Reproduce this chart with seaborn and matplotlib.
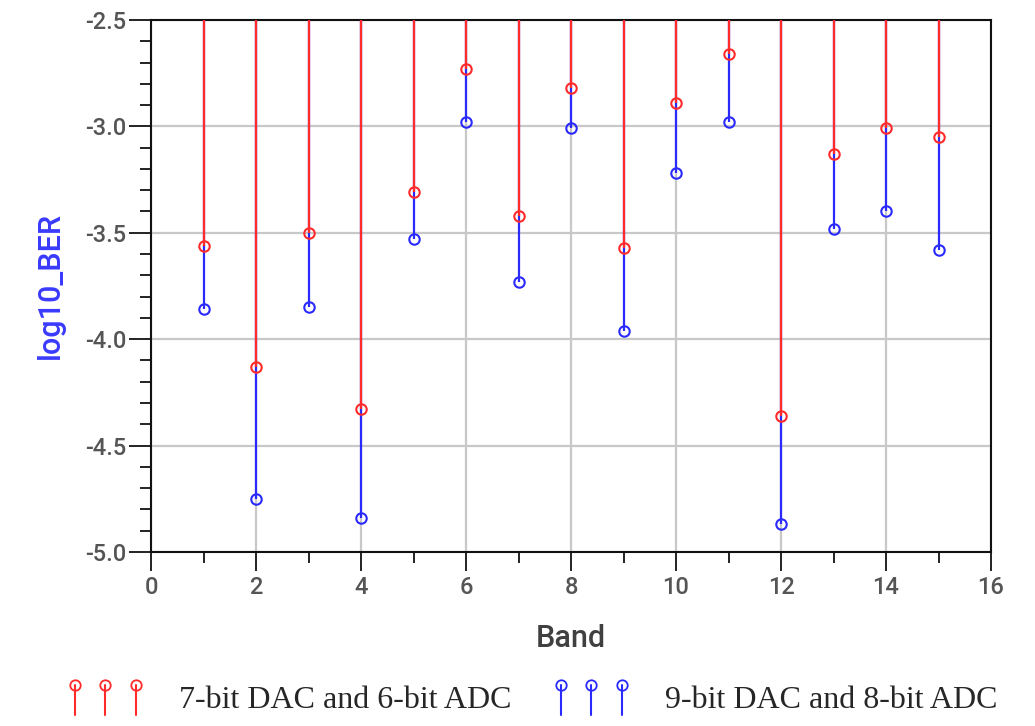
import numpy as np
import matplotlib
matplotlib.use("Agg")
import matplotlib.pyplot as plt
from matplotlib.ticker import MultipleLocator, FormatStrFormatter
from matplotlib.legend_handler import HandlerBase
from matplotlib.lines import Line2D
import seaborn as sns

# Log10 bit error rate per band for two converter resolutions
bands = [1, 2, 3, 4, 5, 6, 7, 8, 9, 10, 11, 12, 13, 14, 15]
ber_7dac_6adc = [-3.56, -4.13, -3.50, -4.33, -3.31, -2.73, -3.42, -2.82,
                 -3.57, -2.89, -2.66, -4.36, -3.13, -3.01, -3.05]
ber_9dac_8adc = [-3.86, -4.75, -3.85, -4.84, -3.53, -2.98, -3.73, -3.01,
                 -3.96, -3.22, -2.98, -4.87, -3.48, -3.40, -3.58]
series_labels = ["7-bit DAC and 6-bit ADC", "9-bit DAC and 8-bit ADC"]

sns.set_style("white")
plt.rcParams["font.family"] = ["Roboto", "DejaVu Sans"]

RED = "#ff2a2a"
BLUE = "#2a2aff"

fig = plt.figure(figsize=(10.35, 7.26), dpi=100)
ax = fig.add_axes([0.1459, 0.2397, 0.8116, 0.7328])

top = -2.5

def stems(values, color, z):
    cont = ax.stem(bands, values, bottom=top, basefmt=" ")
    cont.stemlines.set_color(color)
    cont.stemlines.set_linewidth(1.6)
    cont.stemlines.set_zorder(z)
    cont.markerline.set_marker("o")
    cont.markerline.set_markersize(7.5)
    cont.markerline.set_markerfacecolor("none")
    cont.markerline.set_markeredgecolor(color)
    cont.markerline.set_markeredgewidth(1.5)
    cont.markerline.set_linestyle("none")
    cont.markerline.set_zorder(z + 0.5)
    return cont

blue_c = stems(ber_9dac_8adc, BLUE, 3)
red_c = stems(ber_7dac_6adc, RED, 4)

ax.set_xlim(0, 16)
ax.set_ylim(-5.0, -2.5)
ax.xaxis.set_major_locator(MultipleLocator(2))
ax.xaxis.set_minor_locator(MultipleLocator(1))
ax.yaxis.set_major_locator(MultipleLocator(0.5))
ax.yaxis.set_minor_locator(MultipleLocator(0.1))
ax.yaxis.set_major_formatter(FormatStrFormatter("%.1f"))

ax.grid(True, which="major", color="#c8c8c8", linewidth=1.6, zorder=0)
ax.set_axisbelow(True)

for side in ["left", "bottom", "top", "right"]:
    ax.spines[side].set_visible(True)
    ax.spines[side].set_color("#111111")
    ax.spines[side].set_linewidth(1.5)

ax.tick_params(axis="y", which="major", direction="out", length=16, width=1.4,
               color="#222222", labelsize=17, labelcolor="#555555", pad=2,
               left=True, right=False)
ax.tick_params(axis="y", which="minor", direction="out", length=8, width=1.4,
               color="#222222", left=True, right=False)
ax.tick_params(axis="x", which="major", direction="out", length=14, width=1.4,
               color="#222222", labelsize=17, labelcolor="#555555", pad=3,
               bottom=True, top=False)
ax.tick_params(axis="x", which="minor", direction="out", length=8, width=1.4,
               color="#222222", bottom=True, top=False)
for lab in ax.get_xticklabels() + ax.get_yticklabels():
    lab.set_fontweight("medium")

ax.set_xlabel("Band", fontsize=22, color="#404040", labelpad=18,
              fontweight="medium")
ax.set_ylabel("log10_BER", fontsize=22, color="#3a3aff", labelpad=14,
              fontweight="medium")


class TripleStemHandler(HandlerBase):
    """Legend key drawn as three small stems topped with hollow circles."""

    def create_artists(self, legend, orig_handle, xdescent, ydescent,
                       width, height, fontsize, trans):
        color = orig_handle.stemlines.get_color()
        color = color[0] if np.ndim(color) > 1 else color
        artists = []
        xs = np.linspace(0.1, 0.9, 3) * width - xdescent
        y0 = -ydescent - 0.25 * height
        y1 = -ydescent + 1.0 * height
        for x in xs:
            stem = Line2D([x, x], [y0, y1], color=color, linewidth=1.5,
                          transform=trans)
            head = Line2D([x], [y1], marker="o", markersize=7.5,
                          markerfacecolor="none", markeredgecolor=color,
                          markeredgewidth=1.3, linestyle="none",
                          transform=trans)
            artists.extend([stem, head])
        return artists


leg = fig.legend([red_c, blue_c], series_labels, loc="center left",
                 bbox_to_anchor=(0.037, 0.036), ncol=2, frameon=False,
                 handler_map={type(red_c): TripleStemHandler()},
                 handlelength=2.4, handleheight=0.8, handletextpad=1.1,
                 columnspacing=1.3,
                 prop={"family": ["Liberation Serif"], "size": 23})

fig.savefig("out.png", dpi=100)
